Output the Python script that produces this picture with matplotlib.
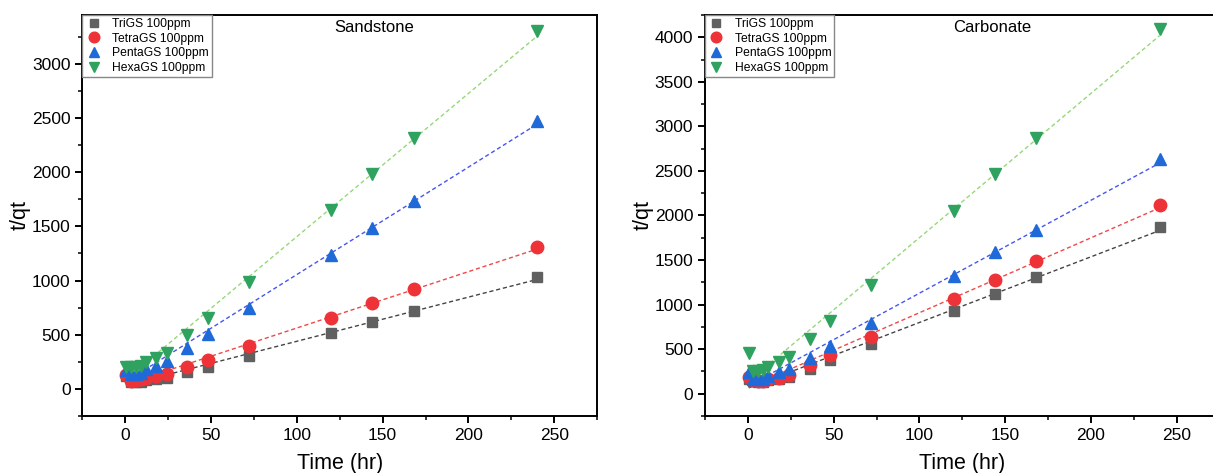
import matplotlib
matplotlib.use("Agg")
import matplotlib.pyplot as plt
import numpy as np
from matplotlib.ticker import MultipleLocator

# ---------------- data ----------------
time_hr = [0.5, 3, 6, 9, 12, 18, 24, 36, 48, 72, 120, 144, 168, 240]

# Sandstone, t/qt
sand_tri   = [120, 60, 60, 65, 80, 90, 102, 154, 200, 308, 514, 616, 718, 1032]
sand_tetra = [130, 75, 80, 90, 100, 115, 139, 200, 268, 394, 657, 792, 921, 1310]
sand_penta = [170, 140, 140, 150, 180, 215, 262, 379, 509, 749, 1240, 1486, 1735, 2475]
sand_hexa  = [205, 205, 205, 215, 246, 287, 333, 493, 653, 986, 1650, 1982, 2312, 3305]

# Carbonate, t/qt
carb_tri   = [160, 140, 130, 130, 150, 170, 188, 282, 376, 556, 932, 1116, 1311, 1867]
carb_tetra = [190, 150, 140, 145, 160, 180, 214, 327, 432, 639, 1063, 1277, 1484, 2123]
carb_penta = [240, 170, 165, 170, 200, 240, 282, 402, 537, 797, 1323, 1585, 1841, 2630]
carb_hexa  = [455, 260, 255, 265, 300, 357, 413, 613, 816, 1221, 2047, 2461, 2866, 4095]

labels = ["TriGS 100ppm", "TetraGS 100ppm", "PentaGS 100ppm", "HexaGS 100ppm"]
markers = ["s", "o", "^", "v"]
mcolors = ["#606060", "#ee3338", "#1f6ad8", "#2ea25e"]
lcolors = ["#444444", "#f04848", "#4656ee", "#96d878"]

plt.rcParams.update({
    "font.family": ["Liberation Sans", "DejaVu Sans"],
    "axes.linewidth": 1.4,
    "xtick.major.width": 1.4,
    "ytick.major.width": 1.4,
    "xtick.minor.width": 1.1,
    "ytick.minor.width": 1.1,
})

fig = plt.figure(figsize=(12.13, 4.73), dpi=100)
ax1 = fig.add_axes([0.068, 0.1205, 0.4242, 0.8478])
ax2 = fig.add_axes([0.5812, 0.1205, 0.4242, 0.8478])

panels = [
    (ax1, "Sandstone", [sand_tri, sand_tetra, sand_penta, sand_hexa], (-250, 3450), 0.567),
    (ax2, "Carbonate", [carb_tri, carb_tetra, carb_penta, carb_hexa], (-250, 4250), 0.559),
]

t = np.array(time_hr)
for ax, name, series, ylim, tx in panels:
    for vals, lab, mk, mc, lc in zip(series, labels, markers, mcolors, lcolors):
        v = np.array(vals)
        slope, icpt = np.polyfit(t, v, 1)
        ax.plot(t, slope * t + icpt, ls=(0, (3, 2)), lw=1.0, color=lc, zorder=2)
        ax.plot(t, v, ls="none", marker=mk, ms=9 if mk != "s" else 7.5,
                color=mc, mec=mc, label=lab, zorder=3)

    ax.set_xlim(-25, 275)
    ax.set_ylim(*ylim)
    ax.xaxis.set_major_locator(MultipleLocator(50))
    ax.xaxis.set_minor_locator(MultipleLocator(25))
    ax.yaxis.set_major_locator(MultipleLocator(500))
    ax.yaxis.set_minor_locator(MultipleLocator(250))
    ax.tick_params(which="both", direction="out", labelsize=12.5)
    ax.tick_params(which="major", length=5)
    ax.tick_params(which="minor", length=3)

    ax.set_xlabel("Time (hr)", fontsize=15.5)
    ax.set_ylabel("t/qt", fontsize=15.5)
    ax.xaxis.set_label_coords(0.5, -0.092)
    ax.yaxis.set_label_coords(-0.10, 0.5)

    ax.text(tx, 0.968, name, transform=ax.transAxes, ha="center", va="center",
            fontsize=12)

    leg = ax.legend(loc="upper left", fontsize=8.7, frameon=True, fancybox=False,
                    edgecolor="#888888", framealpha=1, borderaxespad=0.0,
                    borderpad=0.25, labelspacing=0.22, handletextpad=0.8,
                    handlelength=1.4, markerscale=0.85)
    leg.get_frame().set_linewidth(1.0)

fig.savefig("out.png", dpi=100)
